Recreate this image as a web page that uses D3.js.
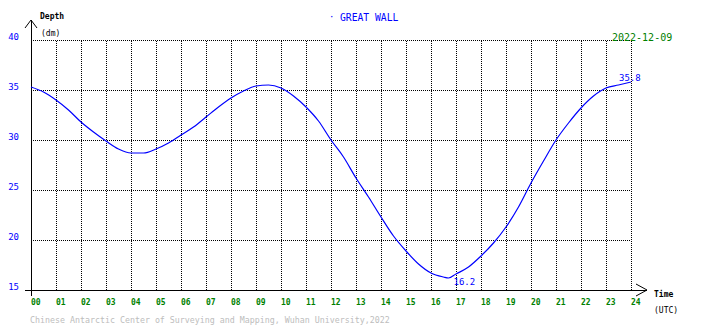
<!DOCTYPE html>
<html>
<head>
    <meta charset="UTF-8">
    <title>GREAT WALL tide</title>
    <style>
        body { margin: 0; background: #fff; }
        text { font-family: "DejaVu Sans Mono", monospace; }
        .grid line { stroke: #000; stroke-dasharray: 1,1; shape-rendering: crispEdges; }
        .grid path { display: none; }
    </style>
</head>
<body>
<script src="https://cdn.jsdelivr.net/npm/d3@7"></script>
<script>
    // hours (UTC) and depth in dm
    var hours = [0, 0.5, 1, 1.5, 2, 2.5, 3, 3.5, 4, 4.5, 5, 5.5, 6, 6.5, 7, 7.5, 8, 8.5, 9, 9.5,
        10, 10.5, 11, 11.5, 12, 12.5, 13, 13.5, 14, 14.5, 15, 15.5, 16, 16.5, 16.7, 17, 17.5,
        18, 18.5, 19, 19.5, 20, 20.5, 21, 21.5, 22, 22.5, 23, 23.5, 24];
    var depth = [35.3, 34.8, 34.0, 33.0, 31.8, 30.8, 29.9, 29.1, 28.7, 28.7, 29.1, 29.7, 30.5, 31.3,
        32.3, 33.3, 34.2, 34.9, 35.4, 35.5, 35.2, 34.4, 33.3, 31.9, 30.0, 28.3, 26.2, 24.3, 22.3,
        20.4, 18.9, 17.6, 16.7, 16.3, 16.2, 16.6, 17.3, 18.4, 19.7, 21.3, 23.3, 25.7, 27.9, 30.0,
        31.7, 33.2, 34.4, 35.2, 35.5, 35.8];
    var yTicks = [15, 20, 25, 30, 35, 40];
    var xTicks = d3.range(0, 25);

    var station = "GREAT WALL";
    var day = "2022-12-09";
    var footer = "Chinese Antarctic Center of Surveying and Mapping, Wuhan University,2022";

    var width = 710, height = 328;
    var x = d3.scaleLinear().domain([0, 24]).range([31, 631]);
    var y = d3.scaleLinear().domain([15, 40]).range([290, 40]);

    var svg = d3.select("body").append("svg")
        .attr("width", width)
        .attr("height", height);

    // dotted grid
    svg.append("g")
        .attr("class", "grid")
        .attr("transform", "translate(0," + y(15) + ")")
        .call(d3.axisBottom(x).tickValues(xTicks.slice(1)).tickSize(-(y(15) - y(40))).tickFormat(""));
    svg.append("g")
        .attr("class", "grid")
        .attr("transform", "translate(" + x(0) + ",0)")
        .call(d3.axisLeft(y).tickValues(yTicks.slice(1)).tickSize(-(x(24) - x(0))).tickFormat(""));

    // axes lines with arrows
    var axes = svg.append("g")
        .attr("stroke", "#000")
        .attr("fill", "none")
        .attr("shape-rendering", "crispEdges");
    axes.append("line").attr("x1", x(0)).attr("x2", x(0)).attr("y1", 20).attr("y2", 296);
    axes.append("line").attr("x1", 25).attr("x2", 647).attr("y1", y(15)).attr("y2", y(15));
    axes.append("path").attr("shape-rendering", "auto").attr("d", "M25,28L31,20L37,28");
    axes.append("path").attr("shape-rendering", "auto").attr("d", "M636,284L647,290L636,296");

    // y tick labels
    svg.append("g").selectAll("text")
        .data(yTicks)
        .enter().append("text")
        .attr("x", 19)
        .attr("y", function (d) { return y(d); })
        .attr("text-anchor", "end")
        .attr("fill", "#0000ff")
        .style("font-size", "9px")
        .text(function (d) { return d; });

    // x tick labels
    svg.append("g").selectAll("text")
        .data(xTicks)
        .enter().append("text")
        .attr("x", function (d) { return x(d); })
        .attr("y", 305)
        .attr("fill", "#008000")
        .style("font-size", "8px")
        .style("font-weight", "bold")
        .text(function (d) { return d3.format("02d")(d); });

    // axis titles
    svg.append("text").attr("x", 40).attr("y", 19).style("font-size", "8px").style("font-weight", "bold").text("Depth");
    svg.append("text").attr("x", 41).attr("y", 36).style("font-size", "8px").text("(dm)");
    svg.append("text").attr("x", 654).attr("y", 297).style("font-size", "8px").style("font-weight", "bold").text("Time");
    svg.append("text").attr("x", 654).attr("y", 313).style("font-size", "8px").text("(UTC)");

    // title, date, footer
    svg.append("text").attr("x", 329).attr("y", 20).attr("fill", "#0000ff").style("font-size", "9px").text("·");
    svg.append("text").attr("x", 340).attr("y", 21).attr("fill", "#0000ff").style("font-size", "9.7px").text(station);
    svg.append("text").attr("x", 612).attr("y", 41).attr("fill", "#008000").style("font-size", "10px").text(day);
    svg.append("text").attr("x", 30).attr("y", 323).attr("fill", "#bdbdbd").style("font-size", "8.3px").text(footer);

    // tide curve
    var data = hours.map(function (h, i) { return {h: h, d: depth[i]}; });
    var line = d3.line()
        .x(function (d) { return x(d.h); })
        .y(function (d) { return y(d.d); })
        .curve(d3.curveMonotoneX);
    svg.append("path")
        .datum(data)
        .attr("fill", "none")
        .attr("stroke", "#0000ff")
        .attr("stroke-width", 1.2)
        .attr("d", line);

    // min / max labels
    var minI = d3.minIndex(depth), maxI = d3.maxIndex(depth);
    svg.append("text")
        .attr("x", x(hours[minI]) + 5)
        .attr("y", y(depth[minI]) + 7)
        .attr("fill", "#0000ff")
        .style("font-size", "9px")
        .text(depth[minI].toFixed(1));
    svg.append("text")
        .attr("x", x(hours[maxI]) - 12)
        .attr("y", y(depth[maxI]) - 1)
        .attr("fill", "#0000ff")
        .style("font-size", "9px")
        .text(depth[maxI].toFixed(1));
</script>
</body>
</html>
